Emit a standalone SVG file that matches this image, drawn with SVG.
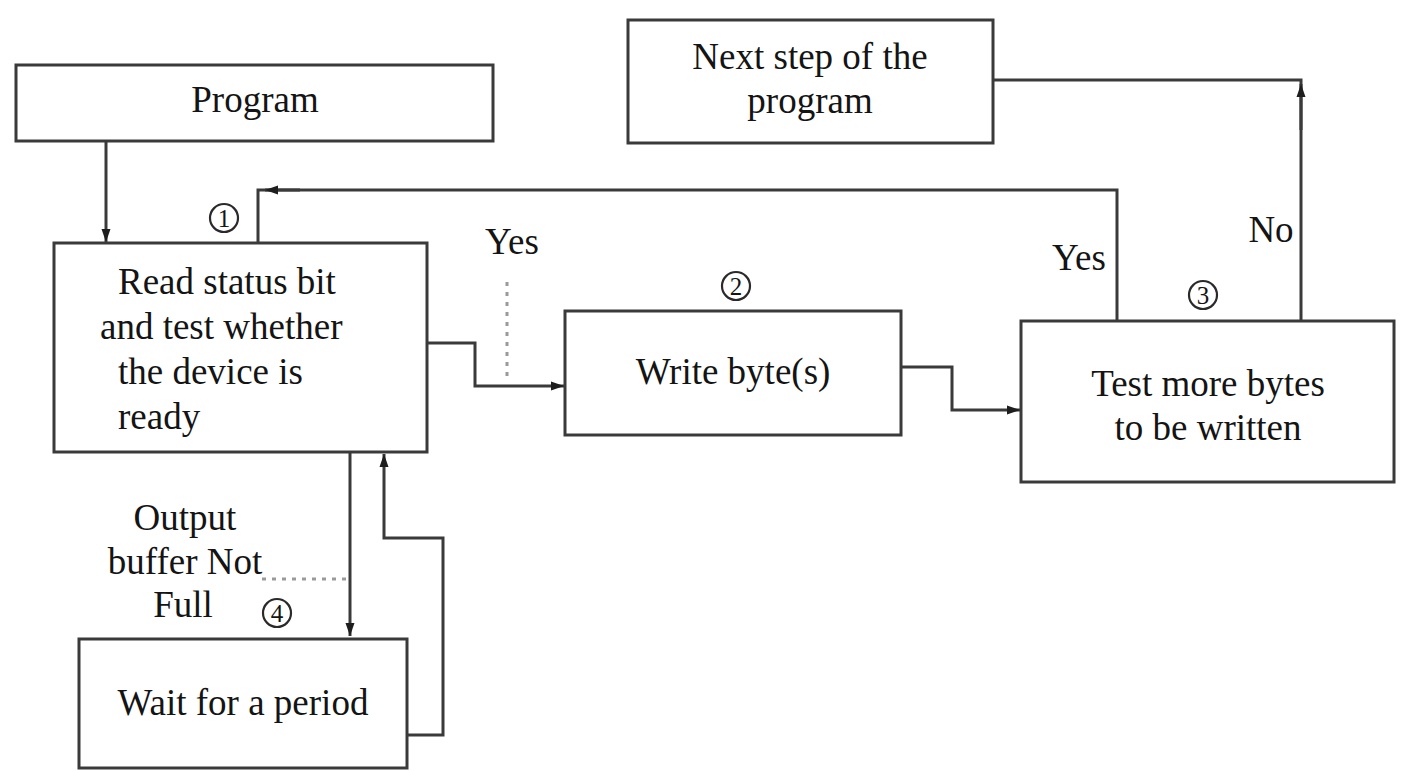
<svg xmlns="http://www.w3.org/2000/svg" width="1419" height="770" viewBox="0 0 1419 770">
  <style>
    .box { fill: #ffffff; stroke: #3a3a3a; stroke-width: 3; }
    .line { fill: none; stroke: #3a3a3a; stroke-width: 3; }
    .dot { fill: none; stroke: #9a9a9a; stroke-width: 3; stroke-dasharray: 4 6; }
    .txt { font-family: 'Liberation Serif', serif; font-size: 37px; fill: #141414; }
    .mid { text-anchor: middle; }
    .num circle { fill: none; stroke: #2a2a2a; stroke-width: 2.2; }
    .num text { font-family: 'Liberation Serif', serif; font-size: 25px; fill: #141414; text-anchor: middle; }
  </style>
  <defs>
    <marker id="arrow" markerUnits="userSpaceOnUse" markerWidth="14" markerHeight="10" refX="13" refY="5" orient="auto">
      <path d="M0,0.5 L13,5 L0,9.5 z" fill="#1e1e1e"/>
    </marker>
  </defs>

  <rect width="1419" height="770" fill="#ffffff"/>

  <!-- connectors -->
  <g id="connectors">
    <path class="line" d="M106,142 V242" marker-end="url(#arrow)"/>
    <path class="line" d="M427,343 H475 V386 H564" marker-end="url(#arrow)"/>
    <path class="line" d="M902,367 H952 V410 H1020" marker-end="url(#arrow)"/>
    <path class="line" d="M1117,321 V190 H258 V243"/>
    <path class="line" d="M300,190 H265" marker-end="url(#arrow)"/>
    <path class="line" d="M1301,321 V80 H993"/>
    <path class="line" d="M1301,130 V84" marker-end="url(#arrow)"/>
    <path class="line" d="M350,452 V636" marker-end="url(#arrow)"/>
    <path class="line" d="M407,735 H443 V538 H384 V454" marker-end="url(#arrow)"/>
    <path class="dot" d="M507,282 V382"/>
    <path class="dot" d="M262,579 H348"/>
  </g>

  <!-- nodes -->
  <g id="program">
    <rect class="box" x="16" y="65" width="477" height="76"/>
    <text class="txt mid" x="255" y="112">Program</text>
  </g>

  <g id="next-step">
    <rect class="box" x="628" y="20" width="365" height="123"/>
    <text class="txt mid" x="810" y="69">Next step of the</text>
    <text class="txt mid" x="810" y="113">program</text>
  </g>

  <g id="read-status">
    <rect class="box" x="54" y="243" width="373" height="209"/>
    <text class="txt" x="118" y="294">Read status bit</text>
    <text class="txt" x="100" y="339">and test whether</text>
    <text class="txt" x="118" y="384">the device is</text>
    <text class="txt" x="118" y="429">ready</text>
  </g>

  <g id="write-bytes">
    <rect class="box" x="565" y="311" width="336" height="124"/>
    <text class="txt mid" x="733" y="384">Write byte(s)</text>
  </g>

  <g id="test-more">
    <rect class="box" x="1021" y="321" width="373" height="161"/>
    <text class="txt mid" x="1208" y="396">Test more bytes</text>
    <text class="txt mid" x="1208" y="440">to be written</text>
  </g>

  <g id="wait">
    <rect class="box" x="79" y="639" width="328" height="129"/>
    <text class="txt mid" x="243" y="715">Wait for a period</text>
  </g>

  <!-- branch labels -->
  <g id="labels">
    <text class="txt mid" x="512" y="254">Yes</text>
    <text class="txt mid" x="1079" y="270">Yes</text>
    <text class="txt mid" x="1271" y="242">No</text>
    <text class="txt mid" x="185" y="530">Output</text>
    <text class="txt mid" x="185" y="574">buffer Not</text>
    <text class="txt mid" x="183" y="617">Full</text>
  </g>

  <!-- step numbers -->
  <g id="step-numbers" class="num">
    <circle cx="224" cy="218" r="14"/>
    <text x="224" y="227">1</text>
    <circle cx="736" cy="286" r="14"/>
    <text x="736" y="295">2</text>
    <circle cx="1203" cy="295" r="14"/>
    <text x="1203" y="304">3</text>
    <circle cx="277" cy="613" r="14"/>
    <text x="277" y="622">4</text>
  </g>
</svg>
